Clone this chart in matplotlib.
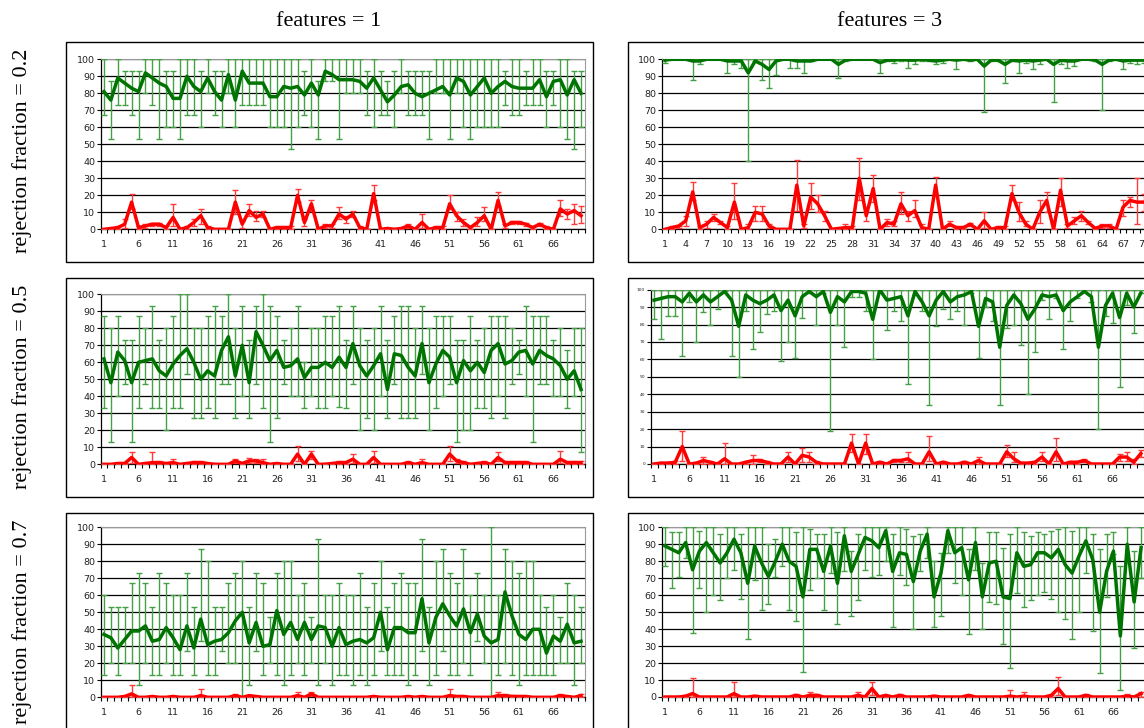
import numpy as np
import matplotlib
matplotlib.use("Agg")
import matplotlib.pyplot as plt
from matplotlib.patches import Rectangle

# x categories (runs 1..70)
runs = list(range(1, 71))

# ---- features = 1, rejection fraction = 0.2 ----
g1_mean = [81, 76, 89, 86, 83, 81, 92, 89, 86, 84, 77, 77, 90, 84, 81, 89, 81, 76, 91, 76,
           93, 86, 86, 86, 78, 78, 84, 83, 84, 79, 86, 79, 93, 91, 88, 88, 88, 87, 83, 89,
           82, 75, 79, 84, 85, 80, 78, 80, 82, 84, 79, 89, 87, 79, 84, 89, 80, 84, 87, 84,
           83, 83, 83, 88, 78, 87, 88, 79, 88, 80]
g1_lo = [67, 53, 73, 73, 67, 53, 80, 73, 53, 60, 60, 53, 67, 67, 60, 80, 67, 60, 80, 60,
         73, 73, 73, 73, 60, 60, 60, 47, 60, 67, 60, 53, 87, 87, 53, 80, 80, 80, 67, 60,
         67, 67, 60, 80, 67, 67, 67, 53, 80, 80, 53, 80, 60, 53, 60, 60, 60, 60, 73, 67,
         67, 73, 73, 73, 60, 73, 60, 53, 47, 60]
g1_hi = [100, 87, 100, 93, 93, 93, 100, 100, 100, 93, 93, 100, 100, 100, 93, 100, 93, 93, 100, 100,
         100, 100, 100, 100, 100, 100, 100, 100, 100, 93, 100, 87, 100, 100, 100, 100, 100, 100, 93, 100,
         93, 87, 93, 100, 93, 93, 93, 93, 100, 100, 100, 100, 100, 100, 100, 100, 100, 100, 93, 100,
         100, 93, 100, 100, 93, 93, 100, 100, 93, 93]
r1_mean = [0, 0.5, 1, 3, 16, 1, 2, 3, 3, 1, 7, 0, 1, 4, 8, 1, 0, 0, 0, 16,
           3, 11, 7, 9, 0, 1, 1, 1, 20, 4, 15, 0, 2, 2, 9, 6, 9, 1, 0, 21,
           0, 0.5, 0, 0.5, 2, 0, 4, 0, 1, 1, 15, 8, 4, 1, 4, 8, 0, 17, 2, 4,
           4, 3, 1, 3, 1, 0, 12, 9, 11, 8]
r1_lo = [0, 0, 0, 1, 12, 0, 1, 2, 2, 0, 2, 0, 0, 2, 3, 0, 0, 0, 0, 9,
         1, 8, 5, 7, 0, 0, 0, 0, 16, 2, 11, 0, 1, 1, 6, 4, 7, 0, 0, 17,
         0, 0, 0, 0, 1, 0, 1, 0, 0, 0, 12, 5, 2, 0, 2, 5, 0, 14, 1, 3,
         3, 2, 0, 2, 0, 0, 8, 6, 3, 4]
r1_hi = [0, 1, 2, 6, 21, 2, 3, 4, 4, 2, 15, 0, 2, 6, 12, 2, 0, 0, 0, 23,
         5, 15, 11, 11, 0, 2, 2, 2, 24, 6, 17, 0, 3, 3, 13, 8, 11, 2, 0, 26,
         0, 1, 0, 1, 3, 0, 9, 0, 2, 2, 20, 10, 6, 2, 7, 13, 0, 22, 3, 5,
         5, 4, 2, 4, 2, 0, 17, 12, 15, 14]

# ---- features = 3, rejection fraction = 0.2 ----
g2_mean = [99.5, 100, 100, 100, 99, 99, 100, 100, 100, 99, 99, 99, 92, 99, 97, 94, 99, 100, 100, 99,
           99, 99, 100, 100, 100, 97, 99.5, 100, 100, 100, 100, 98, 99.5, 99.5, 100, 99.5, 99.5, 100, 99.5, 99,
           99.5, 100, 99.5, 100, 99.5, 100, 96, 99.5, 99.5, 97, 99.5, 99, 99.5, 99, 99.5, 100, 97, 99.5, 99, 99,
           100, 100, 99.5, 97, 99.5, 100, 99, 99.5, 99.5, 99.5]
g2_lo = [98, 100, 100, 100, 88, 97, 100, 100, 100, 92, 97, 95, 40, 99, 88, 83, 91, 100, 95, 95,
         92, 99, 100, 100, 100, 89, 99, 100, 100, 100, 100, 92, 99, 98, 99, 95, 97, 99, 99, 97,
         98, 100, 94, 100, 99, 100, 69, 99, 99, 86, 99, 92, 98, 94, 97, 100, 75, 97, 95, 96,
         100, 100, 99, 70, 99, 100, 94, 98, 97, 98]
g2_hi = [100, 100, 100, 100, 100, 100, 100, 100, 100, 100, 100, 100, 100, 100, 100, 100, 100, 100, 100, 100,
         100, 100, 100, 100, 100, 100, 100, 100, 100, 100, 100, 100, 100, 100, 100, 100, 100, 100, 100, 100,
         100, 100, 100, 100, 100, 100, 100, 100, 100, 100, 100, 100, 100, 100, 100, 100, 100, 100, 100, 100,
         100, 100, 100, 100, 100, 100, 100, 100, 100, 100]
r2_mean = [0, 1, 2, 5, 22, 1, 3, 7, 4, 1, 16, 0, 1, 10, 9, 2, 0, 0, 0, 26,
           2, 19, 15, 8, 0, 0.5, 1, 1, 30, 8, 24, 0, 4, 3, 15, 8, 11, 1, 0, 26,
           0, 3, 1, 1, 3, 0, 5, 0, 1, 1, 21, 10, 3, 0, 10, 17, 0, 23, 2, 5,
           8, 4, 0.5, 2, 2, 0, 13, 17, 16, 16]
r2_lo = [0, 0, 1, 2, 17, 0, 1, 5, 3, 0, 6, 0, 0, 5, 5, 1, 0, 0, 0, 11,
         1, 12, 10, 5, 0, 0, 0, 0, 17, 5, 16, 0, 2, 2, 9, 5, 7, 0, 0, 20,
         0, 2, 0, 0, 2, 0, 1, 0, 0, 0, 17, 5, 2, 0, 4, 10, 0, 14, 1, 3,
         5, 3, 0, 1, 1, 0, 8, 13, 3, 11]
r2_hi = [0, 2, 2, 8, 28, 2, 5, 9, 5, 2, 27, 0, 3, 14, 14, 3, 0, 0, 0, 41,
         3, 27, 20, 11, 0, 1, 3, 2, 42, 10, 32, 0, 6, 5, 22, 11, 17, 3, 0, 31,
         0, 5, 2, 2, 4, 0, 10, 0, 2, 2, 26, 16, 5, 0, 17, 22, 0, 30, 3, 7,
         11, 5, 1, 3, 3, 0, 17, 19, 30, 21]

# ---- features = 1, rejection fraction = 0.5 ----
g3_mean = [62, 48, 66, 61, 48, 60, 61, 62, 55, 52, 59, 64, 68, 60, 50, 55, 52, 67, 75, 52,
           70, 48, 78, 70, 61, 67, 57, 58, 62, 51, 57, 57, 60, 57, 63, 57, 71, 58, 52, 58,
           65, 44, 65, 64, 57, 52, 71, 48, 59, 67, 63, 48, 61, 55, 60, 54, 67, 71, 59, 61,
           66, 67, 59, 67, 64, 62, 58, 50, 55, 44]
g3_lo = [33, 13, 40, 47, 13, 33, 47, 33, 33, 20, 33, 33, 53, 27, 27, 33, 27, 47, 47, 27,
         40, 27, 47, 33, 13, 27, 47, 40, 40, 33, 40, 33, 33, 40, 34, 33, 47, 20, 27, 20,
         40, 27, 47, 27, 27, 27, 53, 20, 33, 40, 47, 13, 20, 20, 33, 33, 27, 40, 27, 47,
         53, 40, 13, 47, 47, 40, 40, 33, 40, 7]
g3_hi = [87, 80, 87, 73, 73, 87, 80, 93, 73, 80, 87, 100, 100, 80, 80, 87, 93, 87, 100, 80,
         93, 73, 93, 100, 93, 87, 73, 80, 93, 60, 80, 80, 87, 87, 93, 73, 93, 80, 73, 80,
         93, 73, 87, 93, 93, 80, 93, 80, 87, 87, 87, 73, 73, 87, 73, 80, 87, 87, 87, 80,
         73, 93, 87, 87, 87, 73, 80, 67, 80, 80]
r3_mean = [0, 0, 0.5, 0.5, 4, 0, 0.5, 1, 1, 0.5, 1, 0, 0.5, 1, 1, 0.5, 0, 0, 0, 2,
           0.5, 2, 2, 1, 0, 0.5, 0, 0, 6, 0, 6, 0, 0, 0.5, 1, 1, 3, 0, 0, 4,
           0, 0, 0, 0, 1, 0, 1, 0, 0, 0, 6, 2, 1, 0, 0.5, 1, 0, 4, 1, 1,
           1, 1, 0, 0, 0, 0, 3, 1, 1, 1]
r3_lo = [0, 0, 0, 0, 1, 0, 0, 0, 0, 0, 0, 0, 0, 0, 0, 0, 0, 0, 0, 1,
         0, 1, 1, 0, 0, 0, 0, 0, 2, 0, 3, 0, 0, 0, 0, 0, 1, 0, 0, 1,
         0, 0, 0, 0, 0, 0, 0, 0, 0, 0, 2, 1, 0, 0, 0, 0, 0, 2, 0, 0,
         0, 0, 0, 0, 0, 0, 1, 0, 0, 0]
r3_hi = [0, 0, 1, 1, 7, 0, 1, 7, 2, 1, 3, 0, 1, 2, 2, 1, 0, 0, 0, 3,
         1, 4, 3, 3, 0, 1, 0, 0, 11, 0, 8, 0, 1, 1, 2, 2, 6, 0, 0, 8,
         0, 0, 0, 0, 2, 0, 3, 0, 0, 0, 11, 3, 2, 0, 1, 2, 0, 7, 2, 2,
         2, 2, 0, 0, 0, 0, 8, 2, 2, 2]

# ---- features = 3, rejection fraction = 0.5 ----
g4_mean = [94, 95, 96, 96, 93, 98, 93, 97, 93, 96, 99, 94, 79, 97, 94, 92, 94, 97, 88, 94,
           85, 96, 99, 96, 99, 87, 96, 93, 99, 99, 98, 83, 100, 94, 95, 96, 85, 99, 93, 85,
           94, 99, 93, 96, 97, 99, 79, 95, 93, 67, 91, 97, 92, 83, 89, 97, 96, 97, 88, 93,
           96, 99, 96, 67, 91, 98, 84, 98, 90, 98]
g4_lo = [83, 72, 85, 85, 62, 93, 70, 87, 80, 89, 99, 62, 50, 88, 66, 76, 86, 88, 59, 70,
         61, 84, 98, 80, 98, 19, 80, 67, 96, 96, 88, 60, 100, 77, 88, 82, 46, 97, 88, 34,
         79, 89, 83, 88, 80, 98, 61, 90, 82, 34, 78, 80, 68, 40, 64, 94, 83, 95, 66, 82,
         95, 99, 93, 20, 85, 81, 44, 91, 75, 98]
g4_hi = [100, 100, 100, 100, 100, 100, 100, 100, 100, 100, 100, 100, 100, 100, 100, 100, 100, 100, 100, 100,
         100, 100, 100, 100, 100, 100, 100, 100, 100, 100, 100, 100, 100, 100, 100, 100, 100, 100, 100, 100,
         100, 100, 100, 100, 100, 100, 100, 100, 100, 100, 100, 100, 100, 100, 100, 100, 100, 100, 100, 100,
         100, 100, 100, 100, 100, 100, 100, 100, 100, 100]
r4_mean = [0, 0.5, 0.5, 1, 10, 0, 0.5, 2, 1, 0, 3, 0, 0, 1, 2, 2, 1, 0, 0, 4,
           0, 5, 4, 1, 0, 0, 0, 0, 12, 0, 12, 0, 1, 0, 2, 2, 3, 0, 0, 7,
           0, 1, 0, 0, 1, 0, 2, 0, 0, 0, 7, 3, 0.5, 0.5, 1, 4, 0, 7, 0, 1,
           1, 2, 0, 0, 0, 0, 4, 4, 1, 6]
r4_lo = [0, 0, 0, 0, 2, 0, 0, 0, 0, 0, 0, 0, 0, 0, 0, 1, 0, 0, 0, 1,
         0, 1, 1, 0, 0, 0, 0, 0, 7, 0, 6, 0, 0, 0, 1, 1, 1, 0, 0, 2,
         0, 0, 0, 0, 0, 0, 0, 0, 0, 0, 4, 1, 0, 0, 0, 2, 0, 2, 0, 0,
         0, 1, 0, 0, 0, 0, 2, 2, 0, 4]
r4_hi = [0, 1, 1, 2, 19, 0, 1, 4, 2, 0, 12, 0, 0, 2, 5, 3, 2, 0, 0, 7,
         0, 9, 7, 2, 0, 0, 0, 0, 17, 0, 17, 0, 2, 0, 3, 3, 7, 0, 0, 16,
         0, 2, 0, 0, 2, 0, 4, 0, 0, 0, 11, 7, 1, 1, 2, 7, 0, 15, 0, 2,
         2, 3, 0, 0, 0, 0, 6, 7, 3, 8]

# ---- features = 1, rejection fraction = 0.7 ----
g5_mean = [37, 35, 29, 34, 39, 39, 42, 33, 34, 41, 35, 28, 42, 29, 46, 31, 33, 34, 38, 45,
           50, 32, 44, 30, 31, 51, 37, 44, 34, 44, 34, 42, 41, 30, 41, 31, 33, 34, 32, 35,
           50, 28, 41, 41, 38, 38, 58, 32, 47, 55, 48, 42, 52, 38, 49, 36, 32, 34, 62, 48,
           37, 34, 40, 40, 26, 36, 33, 43, 32, 33]
g5_lo = [13, 20, 13, 20, 20, 7, 20, 13, 13, 20, 13, 13, 27, 13, 33, 13, 13, 27, 20, 20,
         0, 7, 27, 13, 20, 13, 7, 13, 20, 13, 20, 7, 20, 7, 13, 13, 7, 13, 7, 13,
         27, 13, 13, 13, 7, 13, 27, 7, 13, 27, 13, 13, 20, 13, 33, 20, 0, 13, 20, 13,
         7, 13, 13, 13, 13, 13, 20, 20, 7, 20]
g5_hi = [60, 53, 53, 53, 67, 73, 67, 53, 73, 67, 60, 60, 73, 53, 87, 80, 53, 53, 67, 73,
         80, 53, 73, 67, 47, 73, 80, 80, 60, 67, 47, 93, 60, 60, 67, 60, 60, 73, 53, 67,
         80, 53, 67, 73, 67, 67, 93, 53, 80, 87, 73, 67, 87, 60, 73, 60, 100, 60, 87, 80,
         73, 80, 80, 60, 53, 60, 47, 67, 60, 53]
r5_mean = [0, 0, 0, 0.5, 2, 0, 0, 0.5, 0, 0, 0.5, 0, 0, 0, 1, 0, 0, 0, 0, 1,
           0, 1, 0.5, 0, 0, 0, 0, 0, 1, 0, 2, 0, 0, 0, 0, 0, 0, 0, 0, 0.5,
           0, 0, 0, 0, 0.5, 0, 0.5, 0, 0, 0, 1, 0.5, 0.5, 0, 0, 0, 0, 1, 1, 0.5,
           0.5, 0.5, 0, 0, 0, 0, 1, 0.5, 0, 1]
r5_lo = [0, 0, 0, 0, 0, 0, 0, 0, 0, 0, 0, 0, 0, 0, 0, 0, 0, 0, 0, 0,
         0, 0, 0, 0, 0, 0, 0, 0, 0, 0, 1, 0, 0, 0, 0, 0, 0, 0, 0, 0,
         0, 0, 0, 0, 0, 0, 0, 0, 0, 0, 0, 0, 0, 0, 0, 0, 0, 0, 0, 0,
         0, 0, 0, 0, 0, 0, 0, 0, 0, 0]
r5_hi = [0, 0, 0, 1, 7, 0, 0, 1, 0, 0, 1, 0, 0, 0, 5, 0, 0, 0, 0, 2,
         0, 1, 1, 0, 0, 0, 0, 0, 3, 0, 3, 0, 0, 0, 0, 0, 0, 0, 0, 1,
         0, 0, 0, 0, 1, 0, 1, 0, 0, 0, 5, 1, 1, 0, 0, 0, 0, 3, 2, 1.5,
         1, 1, 0, 0, 0, 0, 2, 1, 0, 2]

# ---- features = 3, rejection fraction = 0.7 ----
g6_mean = [89, 87, 85, 91, 75, 86, 91, 85, 79, 85, 93, 85, 67, 89, 79, 71, 80, 90, 80, 77,
           59, 87, 87, 74, 89, 67, 95, 74, 84, 94, 92, 88, 98, 74, 85, 84, 68, 86, 96, 59,
           73, 98, 85, 88, 69, 91, 59, 79, 80, 59, 58, 85, 77, 78, 85, 85, 82, 87, 78, 73,
           83, 92, 81, 50, 74, 86, 36, 90, 56, 88]
g6_lo = [77, 64, 71, 82, 38, 64, 50, 60, 57, 70, 75, 58, 34, 69, 51, 55, 71, 77, 51, 45,
         15, 63, 70, 51, 73, 43, 74, 48, 57, 75, 71, 72, 80, 41, 72, 66, 40, 74, 82, 41,
         48, 85, 67, 60, 37, 75, 40, 56, 55, 31, 17, 61, 53, 57, 60, 62, 58, 50, 46, 34,
         50, 73, 39, 14, 59, 84, 4, 81, 29, 70]
g6_hi = [100, 97, 97, 100, 100, 98, 100, 100, 96, 100, 100, 96, 100, 100, 100, 90, 93, 100, 100, 97,
         100, 99, 96, 96, 100, 97, 100, 86, 96, 100, 100, 100, 100, 96, 100, 99, 95, 96, 100, 80,
         85, 100, 100, 100, 87, 100, 79, 97, 97, 88, 96, 100, 97, 95, 97, 96, 98, 99, 100, 98,
         100, 100, 96, 87, 96, 97, 77, 100, 86, 100]
r6_mean = [0, 0, 0, 0.5, 2, 0, 0, 0, 0, 0, 2, 0, 0, 0.5, 0, 0, 0, 0, 0, 1,
           0, 1, 1, 0, 0, 0, 0, 0, 1, 0, 5, 0, 1, 0, 1, 0, 0, 0, 0, 0.5,
           0, 0, 0, 0, 1, 0, 0, 0, 0, 0, 0.5, 0, 0.5, 0, 0, 0, 1, 5, 0, 0,
           0, 1, 0, 0, 0, 0, 0, 0.5, 0, 2]
r6_lo = [0, 0, 0, 0, 0, 0, 0, 0, 0, 0, 0, 0, 0, 0, 0, 0, 0, 0, 0, 0,
         0, 0, 0, 0, 0, 0, 0, 0, 0, 0, 1, 0, 0, 0, 0, 0, 0, 0, 0, 0,
         0, 0, 0, 0, 0, 0, 0, 0, 0, 0, 0, 0, 0, 0, 0, 0, 0, 1, 0, 0,
         0, 0, 0, 0, 0, 0, 0, 0, 0, 0]
r6_hi = [0, 0, 0, 1, 11, 0, 0, 0, 0, 0, 9, 0, 0, 1, 0, 0, 0, 0, 0, 2,
         0, 3, 2, 0, 0, 0, 0, 0, 3, 0, 9, 0, 1, 0, 2, 0, 0, 0, 0, 1,
         0, 0, 0, 0, 1, 0, 0, 0, 0, 0, 4, 0, 3, 0, 0, 0, 1, 12, 0, 0,
         0, 2, 0, 0, 0, 0, 0, 2, 0, 3]

col_titles = ["features = 1", "features = 3"]
row_titles = ["rejection fraction = 0.2", "rejection fraction = 0.5", "rejection fraction = 0.7"]
yticks = list(range(0, 101, 10))
xticks_5 = list(range(1, 71, 5))
xticks_3 = list(range(1, 71, 3))

W, H = 1144, 728
fig = plt.figure(figsize=(W / 100, H / 100), dpi=100)
fig.patch.set_facecolor("white")


def px(x0, y0, x1, y1):
    return [x0 / W, 1 - y1 / H, (x1 - x0) / W, (y1 - y0) / H]


def box(x0, y0, x1, y1):
    fig.patches.append(Rectangle((x0 / W, 1 - y1 / H), (x1 - x0) / W, (y1 - y0) / H,
                                 transform=fig.transFigure, fill=False,
                                 edgecolor="black", linewidth=1.0, zorder=0))


def panel(rect, gm, glo, ghi, rm, rlo, rhi, xticks, ysize=6.8):
    ax = fig.add_axes(px(*rect))
    gm, glo, ghi = np.array(gm, float), np.array(glo, float), np.array(ghi, float)
    rm, rlo, rhi = np.array(rm, float), np.array(rlo, float), np.array(rhi, float)
    ax.errorbar(runs, gm, yerr=[gm - glo, ghi - gm], fmt="none", ecolor="#45a045",
                elinewidth=1.0, capsize=2.3, capthick=1.0, zorder=3)
    ax.errorbar(runs, rm, yerr=[rm - rlo, rhi - rm], fmt="none", ecolor="#ff3a3a",
                elinewidth=1.0, capsize=2.3, capthick=1.0, zorder=3)
    ax.plot(runs, gm, color="#007400", lw=2.5, zorder=4)
    ax.plot(runs, rm, color="#ff0000", lw=2.5, zorder=5)

    ax.set_xlim(0.5, 70.5)
    ax.set_ylim(0, 100)
    ax.set_yticks(yticks)
    ax.set_yticklabels([str(v) for v in yticks], fontsize=ysize, family="DejaVu Sans", color="#222222")
    ax.set_xticks(xticks)
    ax.set_xticklabels([str(v) for v in xticks], fontsize=6.8, family="DejaVu Sans", color="#222222")
    ax.set_xticks(np.arange(0.5, 71, 1), minor=True)
    ax.tick_params(axis="x", which="major", length=0, pad=8)
    ax.tick_params(axis="x", which="minor", length=3, width=0.8, direction="out")
    ax.tick_params(axis="y", length=3, width=0.8, pad=0.8)
    ax.yaxis.grid(True, color="black", linewidth=0.9)
    ax.set_axisbelow(True)
    for s in ("top", "right"):
        ax.spines[s].set_color("#9a9a9a")
    for s in ("left", "bottom"):
        ax.spines[s].set_color("black")
        ax.spines[s].set_linewidth(0.9)
    return ax


# frames around each chart
box(65.5, 41.5, 592.5, 262)
box(627.5, 41.5, 1200, 262)
box(65.5, 277.5, 592.5, 497)
box(627.5, 277.5, 1200, 497)
box(65.5, 512.5, 592.5, 800)
box(627.5, 512.5, 1200, 800)

panel((100.5, 59.3, 584.5, 229.3), g1_mean, g1_lo, g1_hi, r1_mean, r1_lo, r1_hi, xticks_5)
panel((661.5, 59.3, 1147.3, 229.3), g2_mean, g2_lo, g2_hi, r2_mean, r2_lo, r2_hi, xticks_3)
panel((100.5, 294.3, 584.5, 464.3), g3_mean, g3_lo, g3_hi, r3_mean, r3_lo, r3_hi, xticks_5)
panel((650.5, 289.7, 1144.3, 464.0), g4_mean, g4_lo, g4_hi, r4_mean, r4_lo, r4_hi, xticks_5, ysize=3.2)
panel((100.5, 527.3, 584.5, 697.3), g5_mean, g5_lo, g5_hi, r5_mean, r5_lo, r5_hi, xticks_5)
panel((661.5, 527.3, 1144.5, 697.0), g6_mean, g6_lo, g6_hi, r6_mean, r6_lo, r6_hi, xticks_5)

serif = ["Liberation Serif", "DejaVu Serif"]
fig.text(329 / W, 1 - 22 / H, col_titles[0], ha="center", va="center", fontsize=16, family=serif)
fig.text(890 / W, 1 - 22 / H, col_titles[1], ha="center", va="center", fontsize=16, family=serif)
for yc, t in zip([151, 387, 622], row_titles):
    fig.text(22 / W, 1 - yc / H, t, ha="center", va="center", rotation=90, fontsize=16, family=serif)

fig.savefig("out.png", dpi=100, facecolor="white")
